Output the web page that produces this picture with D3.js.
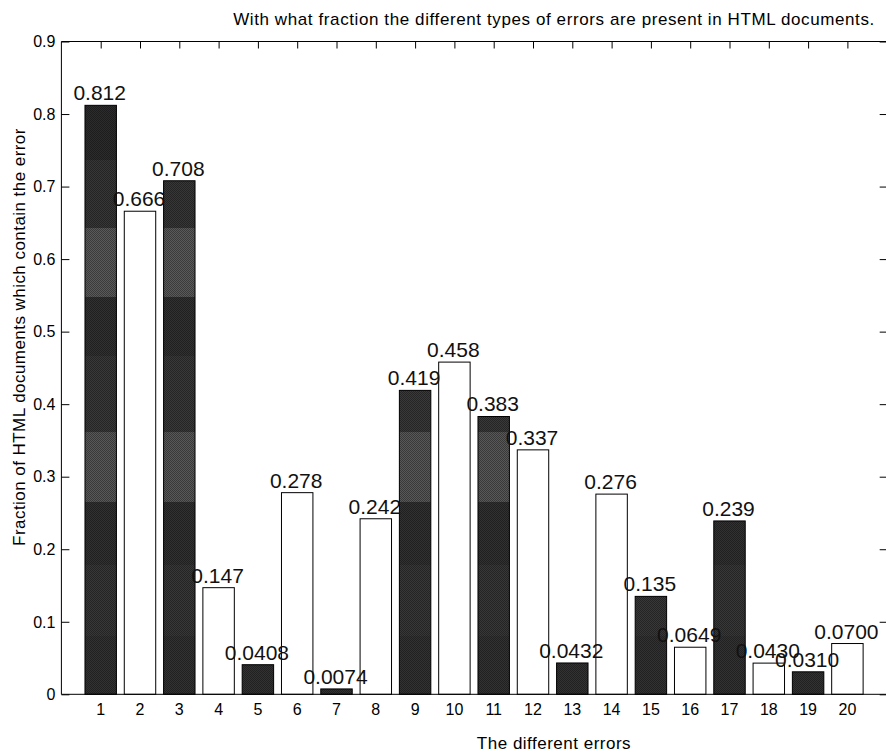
<!DOCTYPE html>
<html>
<head>
<meta charset="utf-8">
<script src="https://cdn.jsdelivr.net/npm/d3@7"></script>
<style>
  body { margin: 0; background: #fff; }
  svg { display: block; font-family: "Liberation Sans", Arial, Helvetica, sans-serif; }
</style>
</head>
<body>
<svg id="chart" width="886" height="754"></svg>
<script>
// data
var errors = d3.range(1, 21);
var fractions = [0.812, 0.666, 0.708, 0.147, 0.0408, 0.278, 0.0074, 0.242, 0.419, 0.458,
                 0.383, 0.337, 0.0432, 0.276, 0.135, 0.0649, 0.239, 0.0430, 0.0310, 0.0700];
var barLabels = ["0.812", "0.666", "0.708", "0.147", "0.0408", "0.278", "0.0074", "0.242", "0.419", "0.458",
                 "0.383", "0.337", "0.0432", "0.276", "0.135", "0.0649", "0.239", "0.0430", "0.0310", "0.0700"];
var yTicks = [0, 0.1, 0.2, 0.3, 0.4, 0.5, 0.6, 0.7, 0.8, 0.9];
var yTickLabels = ["0", "0.1", "0.2", "0.3", "0.4", "0.5", "0.6", "0.7", "0.8", "0.9"];
var title = "With what fraction the different types of errors are present in HTML documents.";
var xTitle = "The different errors";
var yTitle = "Fraction of HTML documents which contain the error";

var svg = d3.select("#chart");
var mLeft = 61.4, mRight = 886.7, mTop = 41.5, mBottom = 694.3;

var x = d3.scaleLinear().domain([0, 21]).range([mLeft, mRight]);
var y = d3.scaleLinear().domain([0, 0.9]).range([mBottom, mTop]);
var barW = x(0.8) - x(0);

// banded dither look of the dark bars
var defs = svg.append("defs");
var bands = [[0, "#2c2c2c"], [160, "#373737"], [228, "#5a5a5a"], [297, "#313131"], [356, "#393939"],
             [432, "#585858"], [502, "#313131"], [565, "#383838"], [636, "#323232"]];
var grad = defs.append("linearGradient").attr("id", "bands")
    .attr("gradientUnits", "userSpaceOnUse")
    .attr("x1", 0).attr("x2", 0).attr("y1", 100).attr("y2", 700);
bands.forEach(function (b, i) {
    var off0 = (b[0] - 100) / 600;
    var off1 = i < bands.length - 1 ? (bands[i + 1][0] - 100) / 600 : 1;
    grad.append("stop").attr("offset", Math.max(0, off0)).attr("stop-color", b[1]);
    grad.append("stop").attr("offset", off1).attr("stop-color", b[1]);
});
var pat = defs.append("pattern").attr("id", "dither")
    .attr("patternUnits", "userSpaceOnUse").attr("width", 2).attr("height", 2);
pat.append("rect").attr("width", 1).attr("height", 1).attr("fill", "#000").attr("fill-opacity", 0.35);
pat.append("rect").attr("x", 1).attr("y", 1).attr("width", 1).attr("height", 1).attr("fill", "#000").attr("fill-opacity", 0.35);

// bars
var bars = svg.append("g").selectAll("g")
    .data(fractions)
    .enter()
    .append("g");

bars.append("rect")
    .attr("x", function (d, i) { return x(errors[i]) - barW / 2; })
    .attr("y", function (d) { return y(d); })
    .attr("width", barW)
    .attr("height", function (d) { return y(0) - y(d); })
    .attr("fill", function (d, i) { return i % 2 == 0 ? "url(#bands)" : "#fff"; })
    .attr("stroke", "#000")
    .attr("stroke-width", 1);

bars.filter(function (d, i) { return i % 2 == 0; })
    .append("rect")
    .attr("x", function (d) { return x(errors[fractions.indexOf(d)]) - barW / 2; })
    .attr("y", function (d) { return y(d); })
    .attr("width", barW)
    .attr("height", function (d) { return y(0) - y(d); })
    .attr("fill", "url(#dither)");

// axes box
svg.append("line").attr("x1", mLeft).attr("x2", mRight).attr("y1", mTop).attr("y2", mTop).attr("stroke", "#000");
svg.append("line").attr("x1", mLeft).attr("x2", mRight).attr("y1", mBottom).attr("y2", mBottom).attr("stroke", "#000");
svg.append("line").attr("x1", mLeft).attr("x2", mLeft).attr("y1", mTop).attr("y2", mBottom).attr("stroke", "#000");
svg.append("line").attr("x1", mRight).attr("x2", mRight).attr("y1", mTop).attr("y2", mBottom).attr("stroke", "#000");

// y ticks, left and right, pointing in
var yAxisL = d3.axisRight(y).tickValues(yTicks).tickSize(8).tickFormat("");
var yAxisR = d3.axisLeft(y).tickValues(yTicks).tickSize(7).tickFormat("");
svg.append("g").attr("transform", "translate(" + mLeft + ",0)").call(yAxisL)
    .call(function (g) { g.select(".domain").remove(); });
svg.append("g").attr("transform", "translate(" + mRight + ",0)").call(yAxisR)
    .call(function (g) { g.select(".domain").remove(); });

svg.append("g").selectAll("text")
    .data(yTicks)
    .enter()
    .append("text")
    .attr("x", mLeft - 6)
    .attr("y", function (d) { return y(d); })
    .attr("dy", "0.36em")
    .attr("text-anchor", "end")
    .attr("font-size", 16)
    .text(function (d, i) { return yTickLabels[i]; });

// x ticks on the top edge
var xAxisT = d3.axisBottom(x).tickValues(errors).tickSize(7).tickFormat("");
svg.append("g").attr("transform", "translate(0," + mTop + ")").call(xAxisT)
    .call(function (g) { g.select(".domain").remove(); });

svg.append("g").selectAll("text")
    .data(errors)
    .enter()
    .append("text")
    .attr("x", function (d) { return x(d); })
    .attr("y", mBottom + 21)
    .attr("text-anchor", "middle")
    .attr("font-size", 16)
    .text(function (d) { return d; });

// value labels
svg.append("g").selectAll("text")
    .data(fractions)
    .enter()
    .append("text")
    .attr("x", function (d, i) { return x(errors[i]) - 1; })
    .attr("y", function (d) { return y(d) - 5; })
    .attr("text-anchor", "middle")
    .attr("font-size", 21)
    .attr("fill", "#111")
    .text(function (d, i) { return barLabels[i]; });

// titles
svg.append("text").attr("x", 554).attr("y", 25).attr("text-anchor", "middle")
    .attr("font-size", 17).attr("letter-spacing", 0.6).text(title);
svg.append("text").attr("x", 554).attr("y", 749).attr("text-anchor", "middle")
    .attr("font-size", 17).attr("letter-spacing", 0.5).text(xTitle);
svg.append("text").attr("transform", "translate(25,337) rotate(-90)").attr("text-anchor", "middle")
    .attr("font-size", 17).attr("letter-spacing", 0.45).text(yTitle);
</script>
</body>
</html>
